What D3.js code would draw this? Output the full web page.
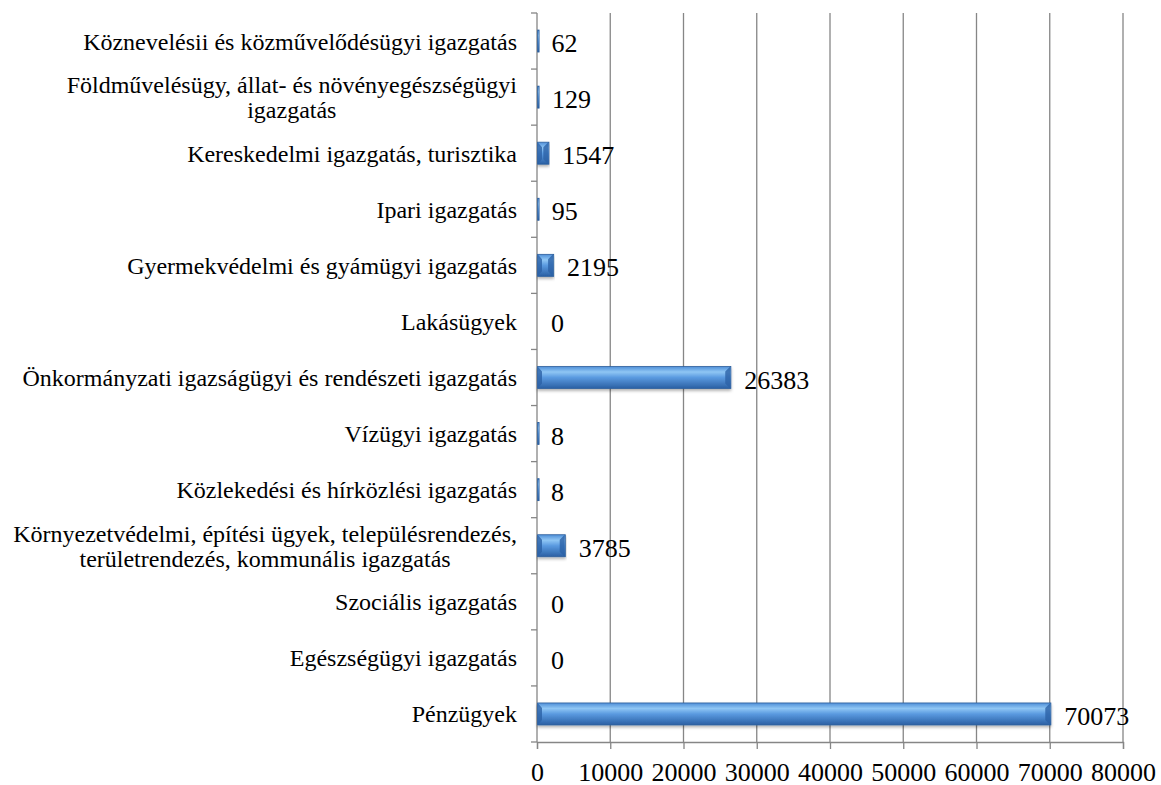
<!DOCTYPE html>
<html>
<head>
<meta charset="utf-8">
<script src="https://cdn.jsdelivr.net/npm/d3@7"></script>
<style>
  html, body { margin: 0; padding: 0; background: #fff; overflow: hidden; }
  svg { display: block; }
</style>
</head>
<body>
<svg id="chart"></svg>
<script>
/* data, top to bottom as in the picture */
var categories = [
  "Köznevelésii és közművelődésügyi igazgatás",
  "Földművelésügy, állat- és növényegészségügyi\nigazgatás",
  "Kereskedelmi igazgatás, turisztika",
  "Ipari igazgatás",
  "Gyermekvédelmi és gyámügyi igazgatás",
  "Lakásügyek",
  "Önkormányzati igazságügyi és rendészeti igazgatás",
  "Vízügyi igazgatás",
  "Közlekedési és hírközlési igazgatás",
  "Környezetvédelmi, építési ügyek, településrendezés,\nterületrendezés, kommunális igazgatás",
  "Szociális igazgatás",
  "Egészségügyi igazgatás",
  "Pénzügyek"
];
var values = [62, 129, 1547, 95, 2195, 0, 26383, 8, 8, 3785, 0, 0, 70073];
var xTicks = [0, 10000, 20000, 30000, 40000, 50000, 60000, 70000, 80000];

/* settings */
var width = 1161,
    height = 785,
    margin = { top: 13, bottom: 43, left: 537, right: 38 },
    gridColor = "#868686",
    fontFamily = "Liberation Serif, Times New Roman, serif",
    labelRight = 517;

var innerWidth = width - margin.left - margin.right;
var innerHeight = height - margin.top - margin.bottom;

var svg = d3.select("#chart")
    .attr("width", width)
    .attr("height", height);

var defs = svg.append("defs");
var grad = defs.append("linearGradient")
    .attr("id", "barGrad")
    .attr("x1", 0).attr("y1", 0).attr("x2", 0).attr("y2", 1);
grad.append("stop").attr("offset", "0%").attr("stop-color", "#4f8fd8");
grad.append("stop").attr("offset", "25%").attr("stop-color", "#8fc6f4");
grad.append("stop").attr("offset", "50%").attr("stop-color", "#5a9ae0");
grad.append("stop").attr("offset", "100%").attr("stop-color", "#2a5fa3");

var shadow = defs.append("filter").attr("id", "shadow")
    .attr("x", "-5%").attr("y", "-30%").attr("width", "110%").attr("height", "170%");
shadow.append("feDropShadow")
    .attr("dx", 0).attr("dy", 2).attr("stdDeviation", 1.5)
    .attr("flood-color", "#000").attr("flood-opacity", 0.3);

var g = svg.append("g")
    .attr("transform", "translate(" + margin.left + "," + margin.top + ")");

/* scales */
var xScale = d3.scaleLinear()
    .domain([0, 80000])
    .range([0, innerWidth]);

var yScale = d3.scaleBand()
    .domain(categories)
    .range([0, innerHeight])
    .paddingInner(0)
    .paddingOuter(0);

/* gridlines */
g.selectAll(".grid")
    .data(xTicks.slice(1))
  .enter().append("line")
    .attr("class", "grid")
    .attr("x1", function (d){ return xScale(d); })
    .attr("x2", function (d){ return xScale(d); })
    .attr("y1", 0)
    .attr("y2", innerHeight)
    .attr("stroke", gridColor)
    .attr("stroke-width", 1.3);

/* x-axis */
var xAxis = d3.axisBottom(xScale)
    .tickValues(xTicks)
    .tickSize(7)
    .tickPadding(14)
    .tickFormat(d3.format("d"));

var xAxisG = g.append("g")
    .attr("class", "x-axis")
    .attr("transform", "translate(0," + innerHeight + ")")
    .call(xAxis)
    .attr("font-family", fontFamily)
    .attr("font-size", 26);
xAxisG.select(".domain").attr("stroke", gridColor).attr("stroke-width", 1.3);
xAxisG.selectAll(".tick line").attr("stroke", gridColor).attr("stroke-width", 1.3);
xAxisG.selectAll(".tick text").attr("fill", "#000");

/* y-axis: line with ticks on the band boundaries */
g.append("line")
    .attr("x1", 0).attr("x2", 0)
    .attr("y1", 0).attr("y2", innerHeight)
    .attr("stroke", gridColor)
    .attr("stroke-width", 1.3);

var bounds = d3.range(categories.length + 1).map(function (i){ return i * yScale.step(); });
g.selectAll(".ytick")
    .data(bounds)
  .enter().append("line")
    .attr("class", "ytick")
    .attr("x1", -6).attr("x2", 0)
    .attr("y1", function (d){ return d; })
    .attr("y2", function (d){ return d; })
    .attr("stroke", gridColor)
    .attr("stroke-width", 1.3);

/* bars */
var barH = 22;
var bars = g.selectAll(".bar")
    .data(categories.map(function (c, i){ return { name: c, value: values[i] }; })
      .filter(function (d){ return d.value > 0; }))
  .enter().append("g")
    .attr("class", "bar")
    .attr("transform", function (d){
      return "translate(0," + (yScale(d.name) + (yScale.bandwidth() - barH) / 2) + ")";
    });

bars.append("rect")
    .attr("x", 0.6)
    .attr("y", 0)
    .attr("width", function (d){ return Math.max(1.5, xScale(d.value)); })
    .attr("height", barH)
    .attr("fill", "url(#barGrad)")
    .attr("stroke", "#2d5f9c")
    .attr("stroke-width", 0.8)
    .attr("filter", function (d){ return xScale(d.value) > 8 ? "url(#shadow)" : null; });

// bevel facets at the bar ends
bars.filter(function (d){ return xScale(d.value) > 8; })
  .append("path")
    .attr("d", function (d){
      var w = xScale(d.value), b = 5;
      return "M0.6,0L" + b + "," + b + "L" + b + "," + (barH - b) + "L0.6," + barH + "Z" +
             "M" + w + ",0L" + (w - b) + "," + b + "L" + (w - b) + "," + (barH - b) + "L" + w + "," + barH + "Z";
    })
    .attr("fill", "#2c62a6")
    .attr("opacity", 0.8);

/* value labels */
g.selectAll(".value")
    .data(values)
  .enter().append("text")
    .attr("class", "value")
    .attr("x", function (d){ return xScale(d) + 14; })
    .attr("y", function (d, i){ return yScale(categories[i]) + yScale.bandwidth() / 2 + 11; })
    .attr("font-family", fontFamily)
    .attr("font-size", 26)
    .text(function (d){ return d; });

/* category labels: right aligned, two-line labels centred in their block */
var lineH = 25;
var catG = svg.append("g").attr("class", "cats");
categories.forEach(function (c) {
  var lines = c.split("\n");
  var cy = margin.top + yScale(c) + yScale.bandwidth() / 2;
  var texts = lines.map(function (l, j) {
    return catG.append("text")
      .attr("font-family", fontFamily)
      .attr("font-size", 24)
      .attr("text-anchor", "end")
      .attr("x", labelRight)
      .attr("y", cy + (j - (lines.length - 1) / 2) * lineH + 8.5)
      .text(l);
  });
  if (texts.length > 1) {
    var maxW = d3.max(texts, function (t){ return t.node().getComputedTextLength(); });
    texts.forEach(function (t) {
      t.attr("x", labelRight - maxW / 2).attr("text-anchor", "middle");
    });
  }
});
</script>
</body>
</html>
